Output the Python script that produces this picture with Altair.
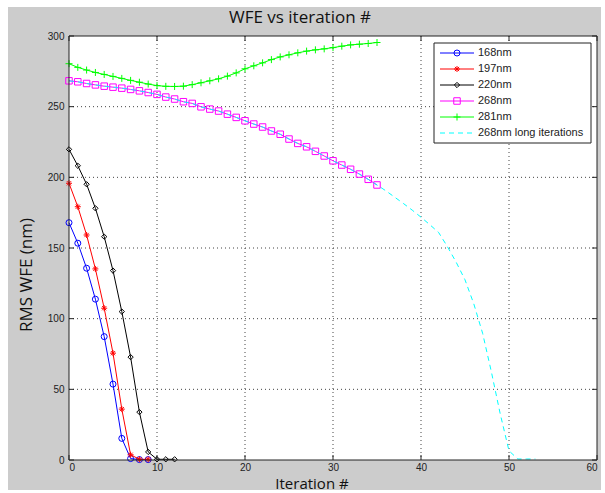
import altair as alt
import pandas as pd

# Iteration numbers and RMS wavefront error (nm) for each starting WFE
iter_168 = list(range(0, 10))
wfe_168 = [167.9, 153.4, 135.7, 113.8, 87.3, 53.7, 15.3, 1.0, 0.3, 0.3]

iter_197 = list(range(0, 10))
wfe_197 = [195.8, 179.2, 159.2, 135.2, 107.4, 75.6, 36.0, 3.7, 0.5, 0.5]

iter_220 = list(range(0, 13))
wfe_220 = [219.8, 208.2, 195.1, 178.1, 158.0, 134.0, 105.0, 72.8, 33.9, 5.7, 0.5, 0.5, 0.5]

iter_268 = list(range(0, 36))
wfe_268 = [268.3, 267.6, 266.4, 265.4, 264.5, 263.8, 263.1, 262.2, 261.2, 260.0,
           258.7, 256.8, 255.4, 253.5, 252.3, 249.9, 248.3, 246.9, 244.7, 242.4,
           240.0, 237.7, 235.6, 232.8, 230.5, 227.1, 224.0, 221.6, 218.4, 215.1,
           211.7, 208.7, 205.7, 202.3, 198.6, 194.6]

iter_281 = list(range(0, 36))
wfe_281 = [280.4, 277.8, 275.9, 274.2, 272.8, 271.4, 270.0, 268.6, 267.3, 266.0,
           264.9, 264.4, 264.3, 264.5, 265.6, 266.9, 268.3, 269.7, 271.6, 273.9,
           276.8, 278.9, 281.0, 283.3, 285.2, 286.7, 288.1, 289.3, 290.2, 290.9,
           291.8, 292.8, 293.7, 294.2, 294.7, 295.4]

# 268 nm case continued past iteration 35
iter_268_long = list(range(0, 54))
wfe_268_long = wfe_268 + [190.5, 186.0, 181.5, 176.8, 171.8, 166.5, 161.0, 151.0,
                          139.9, 127.5, 110.5, 89.7, 62.3, 32.7, 6.5, 0.7, 0.7, 0.7]

series_labels = ["168nm", "197nm", "220nm", "268nm", "281nm", "268nm long iterations"]
x_ticks = [0, 10, 20, 30, 40, 50, 60]
y_ticks = [0, 50, 100, 150, 200, 250, 300]

W, H = 528, 424
LEFT, TOP = 69, 36
FIG = "#cccccc"
LABEL_FONT = "Liberation Sans"
TITLE_FONT = "Open Sans"

PLUS = "M-1,0L1,0M0,-1L0,1"
ASTERISK = "M-1,0L1,0M0,-1L0,1M-0.7,-0.7L0.7,0.7M-0.7,0.7L0.7,-0.7"

x_scale = alt.Scale(domain=[0, 60], nice=False, zero=False)
y_scale = alt.Scale(domain=[0, 300], nice=False, zero=False)
x_axis = alt.Axis(values=x_ticks, grid=False, ticks=False, tickSize=0, domain=False,
                  labelFont=LABEL_FONT, labelFontSize=10, labelColor="#222",
                  labelPadding=2, title=None, zindex=1)
y_axis = alt.Axis(values=y_ticks, grid=False, ticks=False, tickSize=0, domain=False,
                  labelFont=LABEL_FONT, labelFontSize=10, labelColor="#222",
                  labelPadding=5, title=None, zindex=1)

one = pd.DataFrame({"k": [0]})

# figure background and white axes area
figure_bg = alt.Chart(one).mark_rect(color=FIG).encode(
    x=alt.value(8 - LEFT), x2=alt.value(601 - LEFT),
    y=alt.value(7 - TOP), y2=alt.value(490 - TOP))
axes_bg = alt.Chart(one).mark_rect(color="white").encode(
    x=alt.value(0), x2=alt.value(W), y=alt.value(0), y2=alt.value(H))

# dotted grid
grid_x = alt.Chart(pd.DataFrame({"v": x_ticks[1:-1]})).mark_rule(
    color="#444", strokeDash=[1, 3], strokeWidth=1).encode(
    x=alt.X("v:Q", scale=x_scale, axis=x_axis), y=alt.value(0), y2=alt.value(H))
grid_y = alt.Chart(pd.DataFrame({"v": y_ticks[1:-1]})).mark_rule(
    color="#444", strokeDash=[1, 3], strokeWidth=1).encode(
    y=alt.Y("v:Q", scale=y_scale, axis=y_axis), x=alt.value(0), x2=alt.value(W))

# inward tick marks on all four sides
tx = pd.DataFrame({"v": x_ticks})
ty = pd.DataFrame({"v": y_ticks})
ticks = [
    alt.Chart(tx).mark_rule(color="#222").encode(
        x=alt.X("v:Q", scale=x_scale), y=alt.value(H), y2=alt.value(H - 5)),
    alt.Chart(tx).mark_rule(color="#222").encode(
        x=alt.X("v:Q", scale=x_scale), y=alt.value(0), y2=alt.value(5)),
    alt.Chart(ty).mark_rule(color="#222").encode(
        y=alt.Y("v:Q", scale=y_scale), x=alt.value(0), x2=alt.value(5)),
    alt.Chart(ty).mark_rule(color="#222").encode(
        y=alt.Y("v:Q", scale=y_scale), x=alt.value(W), x2=alt.value(W - 5)),
]


def series(xs, ys, color, shape=None, size=36, dash=None):
    df = pd.DataFrame({"it": xs, "wfe": ys})
    enc = dict(x=alt.X("it:Q", scale=x_scale), y=alt.Y("wfe:Q", scale=y_scale))
    line_kw = dict(color=color, strokeWidth=1)
    if dash:
        line_kw["strokeDash"] = dash
    out = [alt.Chart(df).mark_line(**line_kw).encode(**enc)]
    if shape:
        out.append(alt.Chart(df).mark_point(shape=shape, color=color, size=size,
                                            filled=False, strokeWidth=1, opacity=1)
                   .encode(**enc))
    return out


data_layers = []
data_layers += series(iter_168, wfe_168, "#0000ff", "circle", 36)
data_layers += series(iter_197, wfe_197, "#ff0000", ASTERISK, 36)
data_layers += series(iter_220, wfe_220, "#000000", "diamond", 28)
data_layers += series(iter_268, wfe_268, "#ff00ff", "square", 42)
data_layers += series(iter_281, wfe_281, "#00ff00", PLUS, 49)
data_layers += series(iter_268_long, wfe_268_long, "#00ffff", dash=[5, 4])

# axes box
frame = alt.Chart(one).mark_rect(fill=None, stroke="#222", strokeWidth=1).encode(
    x=alt.value(0), x2=alt.value(W), y=alt.value(0), y2=alt.value(H))

# legend
styles = [("#0000ff", "circle", 36, None), ("#ff0000", ASTERISK, 36, None),
          ("#000000", "diamond", 28, None), ("#ff00ff", "square", 42, None),
          ("#00ff00", PLUS, 49, None), ("#00ffff", None, 0, [5, 4])]
legend = [alt.Chart(one).mark_rect(fill="white", stroke="#222", strokeWidth=1).encode(
    x=alt.value(365), x2=alt.value(522), y=alt.value(7), y2=alt.value(107))]
for i, (label, (col, shp, sz, dash)) in enumerate(zip(series_labels, styles)):
    ry = 17 + 16 * i
    rule_kw = dict(color=col, strokeWidth=1)
    if dash:
        rule_kw["strokeDash"] = dash
    legend.append(alt.Chart(one).mark_rule(**rule_kw).encode(
        x=alt.value(371), x2=alt.value(405), y=alt.value(ry)))
    if shp:
        legend.append(alt.Chart(one).mark_point(shape=shp, color=col, size=sz,
                                                filled=False, strokeWidth=1, opacity=1)
                      .encode(x=alt.value(388), y=alt.value(ry)))
    legend.append(alt.Chart(one).mark_text(align="left", baseline="middle",
                                           font=LABEL_FONT, fontSize=11, color="#222")
                  .encode(x=alt.value(409), y=alt.value(ry), text=alt.value(label)))

# titles
texts = [
    alt.Chart(one).mark_text(font=TITLE_FONT, fontSize=17, color="#111",
                             align="center", baseline="middle").encode(
        x=alt.value(231), y=alt.value(-18), text=alt.value("WFE vs iteration #")),
    alt.Chart(one).mark_text(font=TITLE_FONT, fontSize=15, color="#111",
                             align="center", baseline="middle").encode(
        x=alt.value(243), y=alt.value(H + 23.5), text=alt.value("Iteration #")),
    alt.Chart(one).mark_text(font=TITLE_FONT, fontSize=17, color="#111", angle=270,
                             align="center", baseline="middle").encode(
        x=alt.value(-42), y=alt.value(239), text=alt.value("RMS WFE (nm)")),
]

chart = alt.layer(
    figure_bg, axes_bg, grid_x, grid_y, *ticks, *data_layers, frame, *legend, *texts
).properties(
    width=W, height=H,
    autosize=alt.AutoSizeParams(type="none"),
    padding={"left": LEFT, "top": TOP, "right": 605 - LEFT - W, "bottom": 493 - TOP - H},
    background="white",
).configure_view(stroke=None)

chart.save("out.html", embed_options={"renderer": "svg", "actions": False})
